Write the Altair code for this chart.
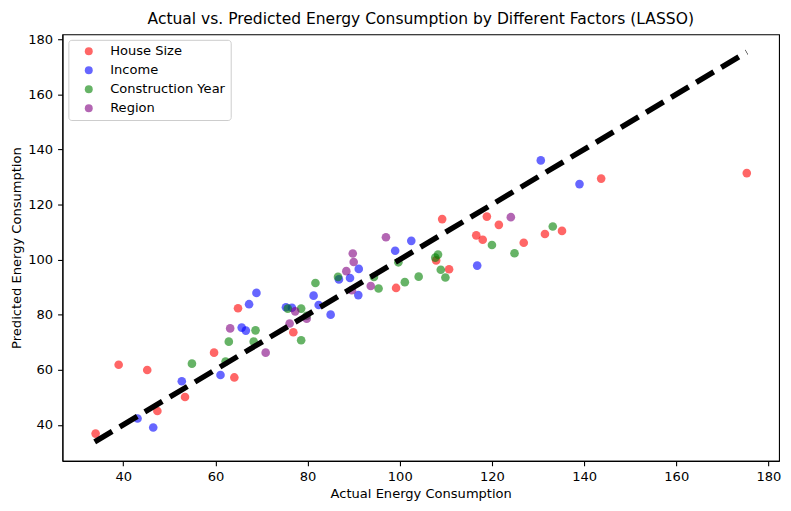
import altair as alt
import pandas as pd

factors = ["House Size", "Income", "Construction Year", "Region"]
colors = ["red", "blue", "green", "purple"]

house_size_actual = [34.0, 39.0, 45.2, 47.4, 53.4, 59.7, 64.1, 64.9, 76.9, 99.2, 107.9,
                     109.2, 110.7, 116.6, 118.0, 118.9, 121.5, 126.9, 131.5, 135.2, 143.7, 175.3]
house_size_pred = [36.8, 61.8, 59.9, 45.0, 50.1, 66.2, 57.2, 82.3, 73.6, 89.7, 99.7,
                   114.7, 96.5, 108.8, 107.2, 115.6, 112.6, 106.1, 109.3, 110.4, 129.4, 131.4]

income_actual = [43.1, 46.5, 52.7, 61.1, 65.7, 66.6, 67.3, 68.9, 75.3, 76.6, 81.3,
                 82.4, 85.0, 86.8, 89.2, 91.1, 91.0, 99.0, 102.5, 116.8, 130.6, 139.0]
income_pred = [42.3, 39.0, 55.8, 58.1, 75.3, 74.2, 83.8, 87.9, 82.7, 82.5, 86.9,
               83.5, 80.0, 92.8, 93.3, 96.6, 87.1, 103.2, 106.8, 97.8, 136.0, 127.4]

construction_actual = [54.9, 62.2, 62.9, 68.3, 68.7, 75.7, 78.6, 78.6, 79.8, 81.7, 86.6, 94.4,
                       95.4, 99.7, 101.1, 104.1, 107.7, 108.3, 108.9, 109.9, 120.0, 124.9, 133.2]
construction_pred = [62.2, 63.0, 70.2, 70.2, 74.3, 82.2, 82.2, 70.7, 79.6, 91.5, 93.7, 93.7,
                     89.5, 99.0, 91.8, 93.8, 100.7, 101.8, 96.3, 93.5, 105.3, 102.3, 112.0]

region_actual = [63.2, 70.9, 76.1, 77.3, 79.8, 88.4, 89.8, 90.0, 89.6, 93.7, 97.0, 124.1]
region_pred = [75.0, 66.2, 76.8, 81.2, 78.5, 95.8, 102.2, 99.1, 88.9, 90.4, 108.1, 115.4]

line_vals = [33.8, 175.3]
tick_vals = [40, 60, 80, 100, 120, 140, 160, 180]

FONT = "DejaVu Sans"
FS = 13.2

rows = []
series = [
    (house_size_actual, house_size_pred),
    (income_actual, income_pred),
    (construction_actual, construction_pred),
    (region_actual, region_pred),
]
for i, (f, (xs, ys)) in enumerate(zip(factors, series)):
    for a, p in zip(xs, ys):
        rows.append({"Factor": f, "Actual": a, "Predicted": p, "grp": i})
df = pd.DataFrame(rows)
line_df = pd.DataFrame({"Actual": line_vals, "Predicted": line_vals})

x_scale = alt.Scale(domain=[26.8, 182.3], nice=False, zero=False)
y_scale = alt.Scale(domain=[26.9, 181.8], nice=False, zero=False)

points = alt.Chart(df).mark_circle(size=76, opacity=0.6).encode(
    x=alt.X("Actual:Q", scale=x_scale,
            axis=alt.Axis(values=tick_vals, title="Actual Energy Consumption", titlePadding=5)),
    y=alt.Y("Predicted:Q", scale=y_scale,
            axis=alt.Axis(values=tick_vals, title="Predicted Energy Consumption", titlePadding=4)),
    color=alt.Color("Factor:N", scale=alt.Scale(domain=factors, range=colors),
                    legend=alt.Legend(title=None, orient="none", legendX=6, legendY=5.6)),
)

line = alt.Chart(line_df).mark_line(
    color="black", strokeWidth=5.5, strokeDash=[20.6, 8.9], strokeCap="butt"
).encode(
    x=alt.X("Actual:Q", scale=x_scale),
    y=alt.Y("Predicted:Q", scale=y_scale),
)

chart = alt.layer(points, line).properties(
    width=724,
    height=431,
    autosize=alt.AutoSizeParams(type="none"),
    padding={"left": 55, "top": 24, "right": 4, "bottom": 40},
    title=alt.TitleParams(
        "Actual vs. Predicted Energy Consumption by Different Factors (LASSO)",
        font=FONT, fontSize=15.7, fontWeight="normal", color="black",
        anchor="middle", offset=8, baseline="alphabetic", dy=15,
    ),
).configure_view(
    stroke="black", strokeWidth=1.1
).configure_axis(
    grid=False, domainColor="black", domainWidth=1.1,
    tickColor="black", tickSize=4.9, tickWidth=1.1,
    labelFont=FONT, labelFontSize=FS, labelColor="black", labelPadding=5,
    titleFont=FONT, titleFontSize=FS, titleFontWeight="normal", titleColor="black",
).configure_legend(
    fillColor="white", strokeColor="#cccccc", cornerRadius=3, padding=5,
    symbolOffset=9, symbolSize=64, symbolType="circle", symbolOpacity=0.6,
    symbolStrokeWidth=0, labelFont=FONT, labelFontSize=FS, labelColor="black",
    labelOffset=15, rowPadding=5.2,
)

chart.save("out.html", embed_options={"renderer": "svg", "actions": False})
